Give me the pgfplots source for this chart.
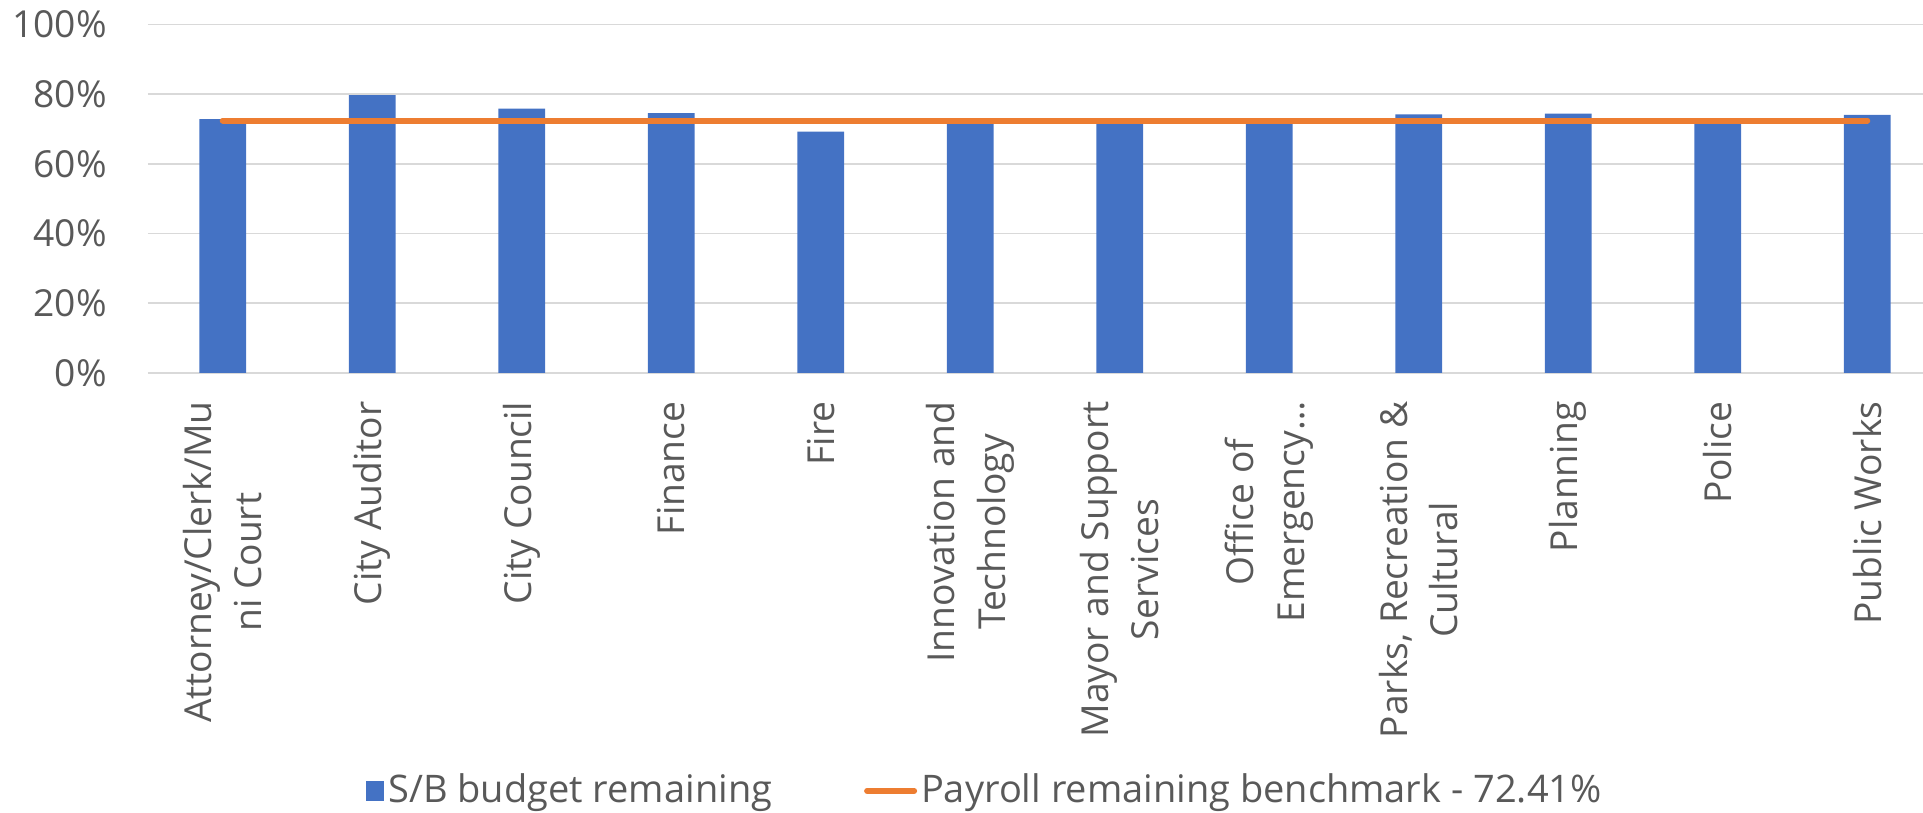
\documentclass[border=0pt]{standalone}
\usepackage{fontspec}
\setmainfont{Open Sans}
\usepackage{pgfplots}
\pgfplotsset{compat=1.18}
\definecolor{barblue}{HTML}{4472C4}
\definecolor{lineorange}{HTML}{ED7D31}
\definecolor{txtgray}{HTML}{595959}
\definecolor{gridgray}{HTML}{D9D9D9}
\begin{document}
\begin{tikzpicture}
\path[use as bounding box] (-37pt,-109.8pt) rectangle (443.75pt,93.2pt);
\begin{axis}[
  at={(0pt,0pt)}, anchor=south west,
  scale only axis, width=448.5pt, height=87.1pt,
  xmin=-0.5, xmax=11.5, ymin=0, ymax=100,
  axis line style={draw=none},
  tick style={draw=none},
  ymajorgrids, grid style={gridgray, line width=0.4pt},
  ytick={0,20,40,60,80,100},
  yticklabels={0\%,20\%,40\%,60\%,80\%,100\%},
  yticklabel style={font=\fontsize{9.3}{12.6}\selectfont, text=txtgray, xshift=-6.8pt},
  xtick={0,1,2,3,4,5,6,7,8,9,10,11},
  xticklabels={{Attorney/Clerk/Mu\\ni Court},City Auditor,City Council,Finance,Fire,{Innovation and\\Technology},{Mayor and Support\\Services},{Office of\\Emergency…},{Parks, Recreation \&\\Cultural},Planning,Police,Public Works},
  xticklabel style={yshift=-6pt, rotate=90, anchor=east, align=center, inner sep=1pt, font=\fontsize{9.3}{12.6}\selectfont, text=txtgray},
  legend style={draw=none, fill=none, at={(0.467,-1.2)}, anchor=center, legend columns=2,
    font=\fontsize{9.5}{12.6}\selectfont, text=txtgray,
    /tikz/every even column/.append style={column sep=22pt},
    nodes={inner sep=1pt}},
]
\addplot[ybar, bar width=11.7pt, fill=barblue, draw=none,
  legend image code/.code={\fill[barblue] (0pt,-2.5pt) rectangle (4.6pt,2.5pt);}]
  coordinates {(0,72.8) (1,79.7) (2,75.8) (3,74.5) (4,69.2) (5,72.6) (6,72.2) (7,72.4) (8,74.2) (9,74.4) (10,72.5) (11,74.0)};
\addlegendentry{S/B budget remaining}
\addplot[lineorange, line width=1.5pt, line cap=round, mark=none,
  legend image code/.code={\draw[lineorange, line width=1.5pt, line cap=round] (0.75pt,0pt) -- (12.5pt,0pt);}]
  coordinates {(0,72.41) (11,72.41)};
\addlegendentry{Payroll remaining benchmark - 72.41\%}
\end{axis}
\end{tikzpicture}
\end{document}
